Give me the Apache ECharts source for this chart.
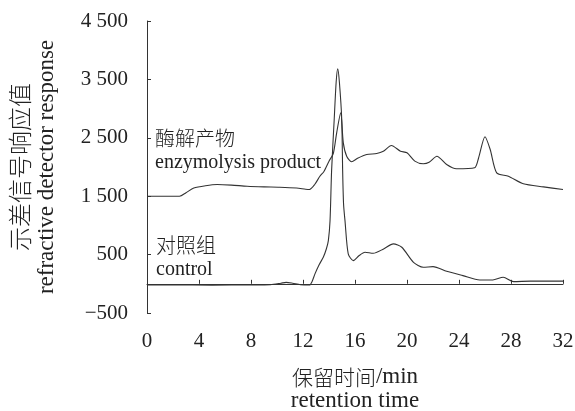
<!DOCTYPE html>
<html><head><meta charset="utf-8">
<script src="https://cdn.jsdelivr.net/npm/echarts@6/dist/echarts.min.js"></script>
<style>html,body{margin:0;padding:0;background:#fff}#c{width:575px;height:411px}</style>
</head><body><div id="c"></div>
<script>
const xTicks = [0,4,8,12,16,20,24,28,32];
const yLabelValues = [-500,500,1500,2500,3500,4500];
const yTickValues = [-500,0,500,1500,2500,3500,4500];
const controlSeries = [[0,-20],[2,-20],[5,-22],[8,-20],[9.5,-15],[10.3,10],[10.7,25],[11.2,10],[11.8,-15],[12.5,-20],[12.7,40],[12.92,170],[13.25,330],[13.56,454],[13.8,600],[13.95,740],[14.08,1082],[14.2,1938],[14.4,2813],[14.55,3450],[14.67,3680],[14.8,3450],[14.98,2813],[15.05,1938],[15.12,1368],[15.23,1082],[15.48,512],[15.87,397],[16.3,480],[16.77,540],[17.4,522],[18.2,597],[18.95,683],[19.6,626],[20.5,368],[21.25,283],[22.0,294],[23.05,214],[24.3,140],[25.6,66],[26.6,66],[27.4,112],[28.2,38],[29.5,45],[32,45]];
const productSeries = [[0,1500],[2.5,1500],[3.0,1560],[3.6,1640],[4.5,1680],[5.4,1700],[6.5,1690],[7.7,1671],[9,1660],[10.2,1654],[11.5,1640],[12.2,1620],[12.5,1615],[12.9,1700],[13.3,1842],[13.6,1920],[14.0,2100],[14.33,2230],[14.59,2586],[14.9,2928],[15.1,2414],[15.36,2185],[15.74,2090],[16.2,2150],[16.9,2214],[17.67,2231],[18.18,2270],[18.8,2368],[19.5,2270],[20,2243],[20.6,2100],[21.25,2055],[21.7,2080],[22.3,2185],[23.05,2042],[23.8,1969],[25.2,1986],[25.5,2150],[26,2517],[26.4,2300],[26.9,1900],[27.8,1842],[28.95,1712],[30.5,1660],[32,1615]];
const labels = {productCn:'酶解产物', productEn:'enzymolysis product', controlCn:'对照组', controlEn:'control'};
const xNameCn = '保留时间', xNameUnit = '/min', xNameEn = 'retention time';
const yNameCn = '示差信号响应值', yNameEn = 'refractive detector response';

const FONT = '"Liberation Serif","Noto Sans CJK SC",serif';
const CJK = '"Noto Sans CJK SC","Liberation Serif",serif';
const ink = '#222';
function fmtY(v){
  if (v < 0) return '\u2212' + Math.abs(v);
  if (v >= 1000) return Math.floor(v/1000) + ' ' + String(v % 1000).padStart(3,'0');
  return String(v);
}
const chart = echarts.init(document.getElementById('c'), null, {renderer:'canvas'});
chart.setOption({
  backgroundColor:'#fff',
  animation:false,
  grid:{left:147,right:12,top:21,bottom:98,containLabel:false,outerBoundsMode:'none'},
  xAxis:{
    type:'value', min:xTicks[0], max:xTicks[xTicks.length-1], interval:4,
    name:'{cn|'+xNameCn+'}{en|'+xNameUnit+'}\n{en|'+xNameEn+'}', nameLocation:'middle', nameGap:52,
    nameTextStyle:{color:ink,lineHeight:24,
      rich:{cn:{fontFamily:CJK,fontSize:21,fontWeight:300,color:ink,lineHeight:24},
            en:{fontFamily:FONT,fontSize:23,color:ink,lineHeight:24}}},
    axisLine:{lineStyle:{color:'#333',width:1}},
    axisTick:{inside:true,length:4,lineStyle:{color:'#333'}},
    axisLabel:{fontFamily:FONT,fontSize:21,color:ink,margin:18},
    splitLine:{show:false}
  },
  yAxis:{
    type:'value', min:-500, max:4500, interval:500,
    name:'{cn|'+yNameCn+'}\n{en|'+yNameEn+'}', nameLocation:'middle', nameRotate:90, nameGap:87,
    nameTextStyle:{color:ink,lineHeight:27,
      rich:{cn:{fontFamily:CJK,fontSize:24,fontWeight:300,color:ink,lineHeight:27},
            en:{fontFamily:FONT,fontSize:23,color:ink,lineHeight:27}}},
    axisLine:{show:true,lineStyle:{color:'#333',width:1}},
    axisTick:{show:true,inside:true,length:4,customValues:yTickValues,lineStyle:{color:'#333'}},
    axisLabel:{fontFamily:FONT,fontSize:21,color:ink,margin:19,customValues:yLabelValues,formatter:fmtY},
    splitLine:{show:false}
  },
  graphic:[
    {type:'text',left:155,top:128,style:{text:labels.productCn,font:'300 20px '+CJK,fill:ink}},
    {type:'text',left:155,top:153,style:{text:labels.productEn,font:'20px '+FONT,fill:ink}},
    {type:'text',left:156,top:235,style:{text:labels.controlCn,font:'300 20px '+CJK,fill:ink}},
    {type:'text',left:156,top:260,style:{text:labels.controlEn,font:'20px '+FONT,fill:ink}}
  ],
  series:[
    {type:'line',name:'control',data:controlSeries,smooth:0.25,showSymbol:false,lineStyle:{color:'#333',width:1.1}},
    {type:'line',name:'product',data:productSeries,smooth:0.25,showSymbol:false,lineStyle:{color:'#333',width:1.1}}
  ]
});
</script></body></html>
